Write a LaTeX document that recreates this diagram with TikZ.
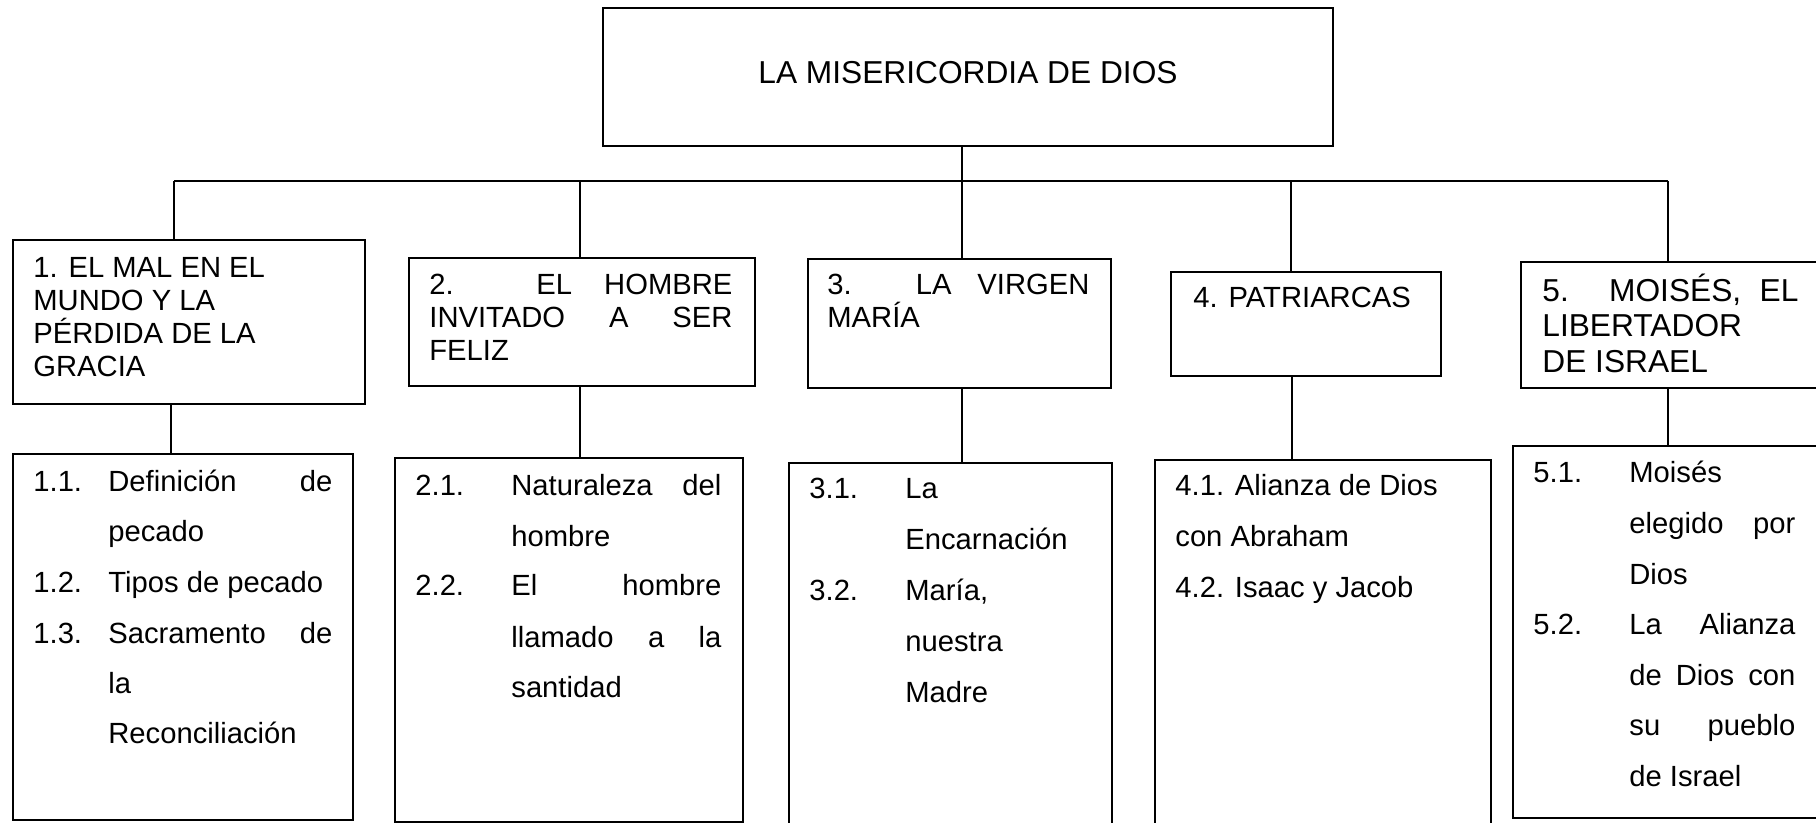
\documentclass[tikz,border=0pt]{standalone}
\usepackage{fontspec}
\setmainfont{Liberation Sans}
\newcommand\fsm{\fontsize{14.6pt}{17pt}\selectfont}
\newcommand\fbg{\fontsize{15.85pt}{19pt}\selectfont}
\tikzset{
  box/.style={draw, line width=1pt, rectangle, inner sep=0pt, anchor=north west},
  link/.style={line width=0.65pt},
  txt/.style={anchor=base west, inner sep=0pt, font=\fsm},
  bigtxt/.style={anchor=base west, inner sep=0pt, font=\fbg}
}
\begin{document}
\begin{tikzpicture}[x=0.5pt,y=-0.5pt]
\path[use as bounding box, fill=white] (0,0) rectangle (1816,823);

% ---------- boxes ----------
\node[box, minimum width=365pt, minimum height=69pt] (top) at (602,7) {};
\node[box, minimum width=176pt, minimum height=82pt] (b1) at (12,239) {};
\node[box, minimum width=173pt, minimum height=64pt] (b2) at (408,257) {};
\node[box, minimum width=151.5pt, minimum height=64.5pt] (b3) at (807,258) {};
\node[box, minimum width=135pt, minimum height=52pt] (b4) at (1170,271) {};
\node[box, minimum width=160pt, minimum height=63pt] (b5) at (1520,261) {};
\node[box, minimum width=170pt, minimum height=183pt] (c1) at (12,453) {};
\node[box, minimum width=174pt, minimum height=182pt] (c2) at (394,457) {};
\node[box, minimum width=161.5pt, minimum height=186pt] (c3) at (788,462) {};
\node[box, minimum width=168pt, minimum height=186pt] (c4) at (1154,459) {};
\node[box, minimum width=162pt, minimum height=186pt] (c5) at (1512,445) {};

% ---------- connectors ----------
\coordinate (j0) at (962,181);
\coordinate (busL) at (174,181);
\coordinate (busR) at (1668,181);
\coordinate (d1) at (174,181);
\coordinate (d2) at (580,181);
\coordinate (d3) at (962,181);
\coordinate (d4) at (1291,181);
\coordinate (d5) at (1668,181);
\coordinate (e1) at (171,420);
\coordinate (e2) at (580,420);
\coordinate (e3) at (962,420);
\coordinate (e4) at (1292,420);
\coordinate (e5) at (1668,420);
\draw[link] (top.south -| j0) -- (j0);
\draw[link] (busL) -- (busR);
\draw[link] (d1) -- (d1 |- b1.north);
\draw[link] (d2) -- (d2 |- b2.north);
\draw[link] (d3) -- (d3 |- b3.north);
\draw[link] (d4) -- (d4 |- b4.north);
\draw[link] (d5) -- (d5 |- b5.north);
\draw[link] (e1 |- b1.south) -- (e1 |- c1.north);
\draw[link] (e2 |- b2.south) -- (e2 |- c2.north);
\draw[link] (e3 |- b3.south) -- (e3 |- c3.north);
\draw[link] (e4 |- b4.south) -- (e4 |- c4.north);
\draw[link] (e5 |- b5.south) -- (e5 |- c5.north);

% ---------- title ----------
\node[bigtxt, anchor=base] (ttl) at (968,84) {LA MISERICORDIA DE DIOS};

% ---------- level 1 texts ----------
\node[txt] (t1a) at (33,278) {1. EL MAL EN EL};
\node[txt] (t1b) at (33,311) {MUNDO Y LA};
\node[txt] (t1c) at (33,344) {PÉRDIDA DE LA};
\node[txt] (t1d) at (33,377) {GRACIA};

\node[txt] (t2a) at (429,295) {\makebox[151.5pt][s]{2. EL HOMBRE}};
\node[txt] (t2b) at (429,328) {\makebox[151.5pt][s]{INVITADO A SER}};
\node[txt] (t2c) at (429,361) {FELIZ};

\node[txt] (t3a) at (827,295) {\makebox[131pt][s]{3. LA VIRGEN}};
\node[txt] (t3b) at (827,328) {MARÍA};

\node[txt] (t4a) at (1193,308) {4. PATRIARCAS};

\node[bigtxt] (t5a) at (1542,302) {\makebox[128pt][s]{5. MOISÉS, EL}};
\node[bigtxt] (t5b) at (1542,337) {LIBERTADOR};
\node[bigtxt] (t5c) at (1542,373) {DE ISRAEL};

% ---------- level 2 texts ----------
\node[txt] (s1a) at (33,492) {1.1.};
\node[txt] (s1b) at (108,492) {\makebox[112pt][s]{Definición de}};
\node[txt] (s1c) at (108,542) {pecado};
\node[txt] (s1d) at (33,593) {1.2.};
\node[txt] (s1e) at (108,593) {Tipos de pecado};
\node[txt] (s1f) at (33,643) {1.3.};
\node[txt] (s1g) at (108,643) {\makebox[112pt][s]{Sacramento de}};
\node[txt] (s1h) at (108,693) {la};
\node[txt] (s1i) at (108,743) {Reconciliación};

\node[txt] (s2a) at (415,495) {2.1.};
\node[txt] (s2b) at (511,495) {\makebox[105pt][s]{Naturaleza del}};
\node[txt] (s2c) at (511,546) {hombre};
\node[txt] (s2d) at (415,596) {2.2.};
\node[txt] (s2e) at (511,596) {\makebox[105pt][s]{El hombre}};
\node[txt] (s2f) at (511,647) {\makebox[105pt][s]{llamado a la}};
\node[txt] (s2g) at (511,697) {santidad};

\node[txt] (s3a) at (809,499) {3.1.};
\node[txt] (s3b) at (905,499) {La};
\node[txt] (s3c) at (905,550) {Encarnación};
\node[txt] (s3d) at (809,601) {3.2.};
\node[txt] (s3e) at (905,601) {María,};
\node[txt] (s3f) at (905,651) {nuestra};
\node[txt] (s3g) at (905,702) {Madre};

\node[txt] (s4a) at (1175,495) {4.1. Alianza de Dios};
\node[txt] (s4b) at (1175,546) {con Abraham};
\node[txt] (s4c) at (1175,597) {4.2. Isaac y Jacob};

\node[txt] (s5a) at (1533,483) {5.1.};
\node[txt] (s5b) at (1629,483) {Moisés};
\node[txt] (s5c) at (1629,534) {\makebox[83pt][s]{elegido por}};
\node[txt] (s5d) at (1629,584) {Dios};
\node[txt] (s5e) at (1533,634) {5.2.};
\node[txt] (s5f) at (1629,634) {\makebox[83pt][s]{La Alianza}};
\node[txt] (s5g) at (1629,685) {\makebox[83pt][s]{de Dios con}};
\node[txt] (s5h) at (1629,735) {\makebox[83pt][s]{su pueblo}};
\node[txt] (s5i) at (1629,786) {de Israel};
\end{tikzpicture}
\end{document}
